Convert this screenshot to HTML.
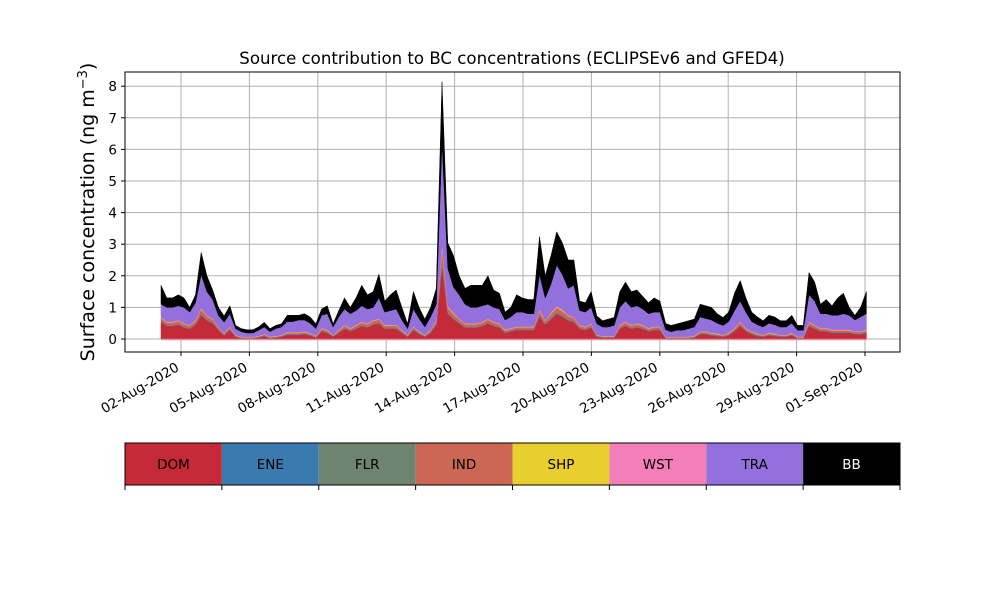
<!DOCTYPE html>
<html><head><meta charset="utf-8"><style>
body{margin:0;background:#fff;font-family:"DejaVu Sans","Liberation Sans",sans-serif}
svg text{font-family:"DejaVu Sans","Liberation Sans",sans-serif}
</style></head><body>
<svg id="chart" width="1000" height="600" viewBox="0 0 1000 600" xmlns="http://www.w3.org/2000/svg">
<rect width="1000" height="600" fill="#fff"/>
<text x="512" y="64" font-size="16.6" text-anchor="middle">Source contribution to BC concentrations (ECLIPSEv6 and GFED4)</text>
<text transform="translate(94,212) rotate(-90)" font-size="19" text-anchor="middle">Surface concentration (ng m<tspan baseline-shift="super" font-size="13">−3</tspan>)</text>
<g id="grid"></g><g id="areas"></g><g id="axes"></g><g id="cbar"></g>
</svg>
<script>
const seriesNames=["DOM","ENE","FLR","IND","SHP","WST","TRA","BB"];
const seriesColors=["#c62a39","#3a7ab0","#6e8370","#cc6655","#e8cf2e","#f27fba","#9370db","#000000"];
const dom=[.54,.41,.41,.45,.36,.32,.45,.75,.58,.49,.28,.11,.28,.07,.02,.02,.02,.04,.09,.02,.04,.07,.13,.13,.13,.15,.11,.04,.24,.19,.07,.19,.32,.24,.32,.41,.36,.45,.49,.32,.32,.32,.19,.07,.28,.15,.07,.19,.45,2.32,.79,.62,.49,.36,.36,.36,.41,.49,.41,.36,.19,.24,.28,.28,.28,.28,.7,.45,.62,.79,.7,.58,.53,.32,.28,.36,.07,.04,.04,.04,.32,.41,.32,.36,.32,.24,.28,.28,.02,.02,.02,.02,.02,.04,.15,.15,.11,.09,.07,.11,.24,.41,.24,.15,.09,.07,.11,.09,.07,.07,.11,.02,.02,.41,.32,.24,.24,.19,.19,.19,.19,.15,.15,.19];
const ene=[.01,.01,.01,.01,.01,.01,.01,.02,.01,.01,.01,.01,.01,.01,.01,.01,.01,.01,.01,.01,.01,.01,.01,.01,.01,.01,.01,.01,.01,.01,.01,.01,.01,.01,.01,.01,.01,.01,.01,.01,.01,.01,.01,.01,.01,.01,.01,.01,.01,.05,.02,.02,.01,.01,.01,.01,.01,.01,.01,.01,.01,.01,.01,.01,.01,.01,.02,.01,.02,.02,.02,.01,.01,.01,.01,.01,.01,.01,.01,.01,.01,.01,.01,.01,.01,.01,.01,.01,.01,.01,.01,.01,.01,.01,.01,.01,.01,.01,.01,.01,.01,.01,.01,.01,.01,.01,.01,.01,.01,.01,.01,.01,.01,.01,.01,.01,.01,.01,.01,.01,.01,.01,.01,.01];
const flr=[.02,.02,.02,.02,.02,.02,.02,.03,.02,.02,.02,.01,.02,.01,.01,.01,.01,.01,.01,.01,.01,.01,.02,.02,.02,.02,.02,.01,.02,.02,.01,.02,.02,.02,.02,.02,.02,.02,.02,.02,.02,.02,.02,.01,.02,.02,.01,.02,.02,.1,.03,.03,.02,.02,.02,.02,.02,.02,.02,.02,.02,.02,.02,.02,.02,.02,.03,.02,.03,.03,.03,.02,.02,.02,.02,.02,.01,.01,.01,.01,.02,.02,.02,.02,.02,.02,.02,.02,.01,.01,.01,.01,.01,.01,.02,.02,.02,.02,.01,.02,.02,.02,.02,.02,.02,.01,.02,.02,.01,.01,.02,.01,.01,.02,.02,.02,.02,.02,.02,.02,.02,.02,.02,.02];
const ind=[.1,.08,.08,.09,.08,.07,.09,.14,.11,.1,.06,.03,.06,.02,.02,.01,.01,.02,.03,.02,.02,.02,.03,.03,.03,.04,.03,.02,.05,.05,.02,.05,.07,.05,.07,.08,.08,.09,.1,.07,.07,.07,.05,.02,.06,.04,.02,.05,.09,.42,.15,.12,.1,.08,.08,.08,.08,.1,.08,.08,.05,.05,.06,.06,.06,.06,.14,.09,.12,.15,.14,.11,.11,.07,.06,.08,.02,.02,.02,.02,.07,.08,.07,.08,.07,.05,.06,.06,.01,.01,.01,.01,.02,.02,.04,.04,.03,.03,.02,.03,.05,.08,.05,.04,.03,.02,.03,.03,.02,.02,.03,.02,.02,.08,.07,.05,.05,.05,.05,.05,.05,.04,.04,.05];
const shp=[.01,.01,.01,.01,.01,.01,.01,.02,.01,.01,.01,.01,.01,.01,.01,.01,.01,.01,.01,.01,.01,.01,.01,.01,.01,.01,.01,.01,.01,.01,.01,.01,.01,.01,.01,.01,.01,.01,.01,.01,.01,.01,.01,.01,.01,.01,.01,.01,.01,.05,.02,.02,.01,.01,.01,.01,.01,.01,.01,.01,.01,.01,.01,.01,.01,.01,.02,.01,.02,.02,.02,.01,.01,.01,.01,.01,.01,.01,.01,.01,.01,.01,.01,.01,.01,.01,.01,.01,.01,.01,.01,.01,.01,.01,.01,.01,.01,.01,.01,.01,.01,.01,.01,.01,.01,.01,.01,.01,.01,.01,.01,.01,.01,.01,.01,.01,.01,.01,.01,.01,.01,.01,.01,.01];
const wst=[.02,.02,.02,.02,.02,.02,.02,.03,.02,.02,.02,.01,.02,.01,.01,.01,.01,.01,.01,.01,.01,.01,.02,.02,.02,.02,.02,.01,.02,.02,.01,.02,.02,.02,.02,.02,.02,.02,.02,.02,.02,.02,.02,.01,.02,.02,.01,.02,.02,.1,.03,.03,.02,.02,.02,.02,.02,.02,.02,.02,.02,.02,.02,.02,.02,.02,.03,.02,.03,.03,.03,.02,.02,.02,.02,.02,.01,.01,.01,.01,.02,.02,.02,.02,.02,.02,.02,.02,.01,.01,.01,.01,.01,.01,.02,.02,.02,.02,.01,.02,.02,.02,.02,.02,.02,.01,.02,.02,.01,.01,.02,.01,.01,.02,.02,.02,.02,.02,.02,.02,.02,.02,.02,.02];
const tra=[.4,.45,.45,.45,.5,.4,.55,1.05,.75,.6,.35,.35,.4,.2,.15,.12,.12,.18,.22,.15,.23,.25,.33,.33,.38,.35,.3,.23,.4,.5,.25,.4,.5,.45,.45,.5,.45,.4,.65,.4,.45,.5,.3,.2,.55,.4,.25,.4,.5,3.2,1.2,.8,.75,.6,.5,.5,.5,.45,.45,.45,.3,.35,.45,.45,.4,.4,1.1,.7,.9,1.3,1.1,.85,1.0,.45,.45,.5,.35,.28,.28,.33,.55,.65,.55,.55,.5,.45,.45,.45,.22,.16,.21,.21,.25,.28,.45,.4,.4,.32,.3,.35,.55,.65,.5,.3,.27,.25,.3,.27,.25,.25,.3,.2,.2,.85,.75,.45,.45,.45,.45,.5,.45,.35,.45,.5];
const bb=[.6,.3,.3,.35,.3,.15,.25,.7,.5,.3,.25,.2,.25,.1,.1,.1,.1,.1,.15,.1,.1,.1,.2,.2,.15,.2,.2,.15,.2,.25,.1,.2,.35,.2,.4,.65,.45,.5,.75,.35,.5,.6,.4,.15,.55,.35,.25,.3,.5,1.9,.8,1.0,.6,.5,.7,.7,.65,.9,.55,.5,.25,.3,.55,.45,.45,.45,1.2,.7,.9,1.05,1.0,.9,.8,.3,.3,.5,.25,.2,.25,.25,.5,.6,.5,.5,.4,.35,.45,.35,.2,.2,.2,.25,.25,.25,.4,.4,.4,.3,.25,.3,.55,.65,.45,.3,.25,.2,.25,.25,.2,.2,.25,.15,.15,.7,.6,.3,.45,.3,.55,.65,.25,.15,.3,.7];
const xTickLabels=["02-Aug-2020","05-Aug-2020","08-Aug-2020","11-Aug-2020","14-Aug-2020","17-Aug-2020","20-Aug-2020","23-Aug-2020","26-Aug-2020","29-Aug-2020","01-Sep-2020"];
const xTickDays=[1,4,7,10,13,16,19,22,25,28,31];
const yTicks=[0,1,2,3,4,5,6,7,8];
const T0=0.125, DT=0.2515; // sample times in days since 01-Aug 00:00

const L=125,R=900,TOP=72,BOT=352;
const xDay=d=>158.2+22.8*d;
const yVal=v=>339-31.6*v;
const NS="http://www.w3.org/2000/svg";
function mk(tag,attrs,parent){const e=document.createElementNS(NS,tag);for(const k in attrs)e.setAttribute(k,attrs[k]);parent.appendChild(e);return e;}
const grid=document.getElementById('grid'),areas=document.getElementById('areas'),axes=document.getElementById('axes'),cbar=document.getElementById('cbar');

yTicks.forEach(v=>{const y=yVal(v);
 const g=mk('line',{x1:L,x2:R,y1:y,y2:y,stroke:'#b0b0b0','stroke-width':1},grid);
 
 
 mk('line',{x1:L-4,x2:L,y1:y,y2:y,stroke:'#000'},axes);
 const t=mk('text',{x:L-8,y:y+5,'font-size':13.5,'text-anchor':'end'},axes);t.textContent=v;
 
 
});
xTickDays.forEach((d,i)=>{const x=xDay(d);
 const g=mk('line',{x1:x,x2:x,y1:TOP,y2:BOT,stroke:'#b0b0b0','stroke-width':1},grid);
 
 
 mk('line',{x1:x,x2:x,y1:BOT,y2:BOT+4,stroke:'#000'},axes);
 const t=mk('text',{transform:`translate(${x-1},${BOT+18}) rotate(-30)`,'font-size':13.5,'text-anchor':'end'},axes);t.textContent=xTickLabels[i];
 
 
});

const series=[dom,ene,flr,ind,shp,wst,tra,bb];
const n=dom.length;
let lower=new Array(n).fill(0);
series.forEach((s,k)=>{
 const upper=lower.map((v,i)=>v+s[i]);
 let pts=[];
 for(let i=0;i<n;i++)pts.push(xDay(T0+i*DT).toFixed(1)+','+yVal(upper[i]).toFixed(1));
 for(let i=n-1;i>=0;i--)pts.push(xDay(T0+i*DT).toFixed(1)+','+yVal(lower[i]).toFixed(1));
 const p=mk('polygon',{points:pts.join(' '),fill:seriesColors[k],stroke:seriesColors[k],'stroke-width':0.5},areas);
 
 
 lower=upper;
});
const base=mk('line',{x1:xDay(T0),x2:xDay(T0+(n-1)*DT),y1:339.5,y2:339.5,stroke:'#e88a9a','stroke-width':1.5},areas);


const frame=mk('rect',{x:L,y:TOP,width:R-L,height:BOT-TOP,fill:'none',stroke:'#000','stroke-width':1},axes);



const cw=(R-L)/8;
seriesNames.forEach((nm,k)=>{const x=L+k*cw;
 const r=mk('rect',{x:x,y:443,width:cw,height:42,fill:seriesColors[k]},cbar);
 
 
 const t=mk('text',{x:x+cw/2,y:469,'font-size':13.5,'text-anchor':'middle',fill:nm==='BB'?'#fff':'#000'},cbar);t.textContent=nm;
 
 
});
for(let k=0;k<=8;k++){const x=L+k*cw;mk('line',{x1:x,x2:x,y1:485,y2:490,stroke:'#000'},cbar);}
const cf=mk('rect',{x:L,y:443,width:R-L,height:42,fill:'none',stroke:'#000','stroke-width':1},cbar);


</script>
</body></html>
